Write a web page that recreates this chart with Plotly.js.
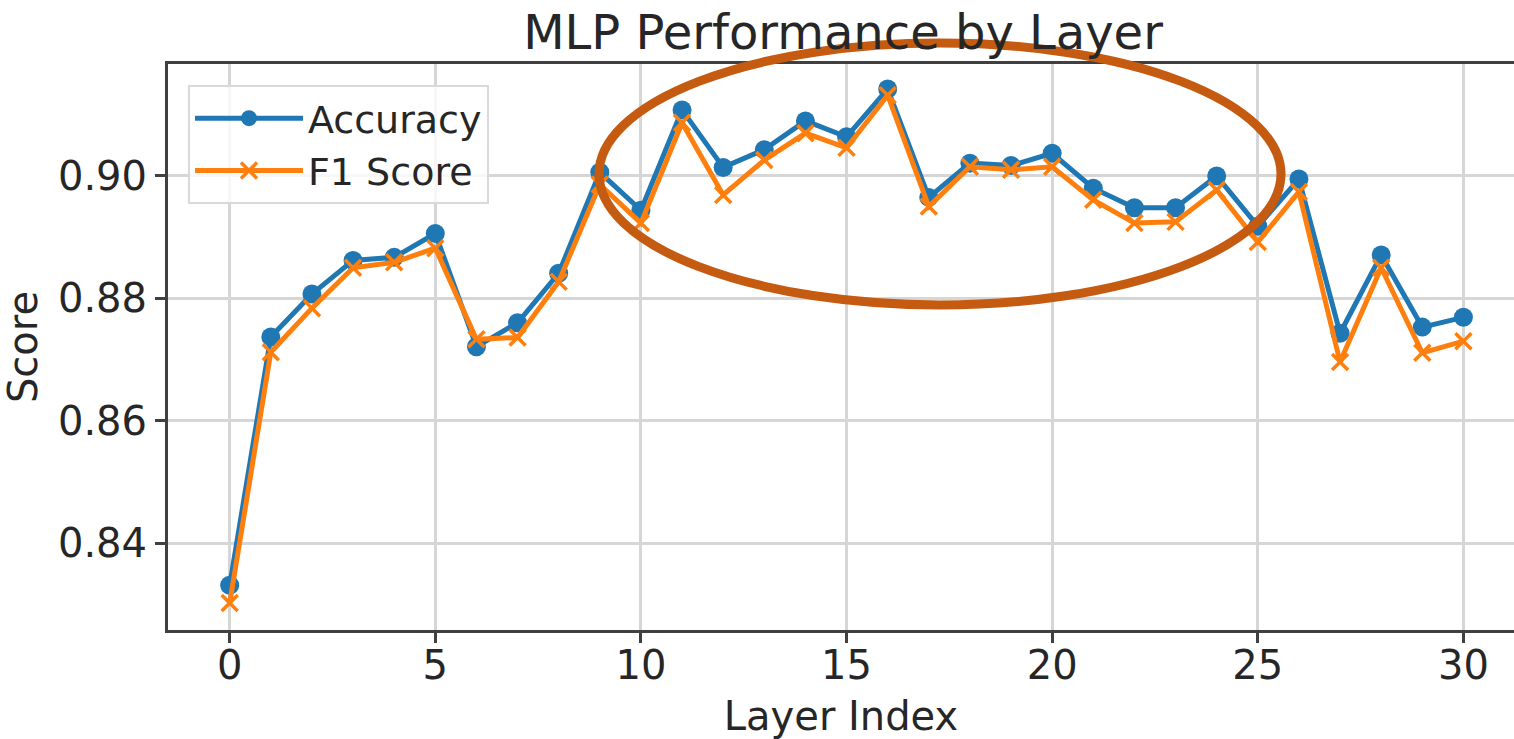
<!DOCTYPE html>
<html>
<head>
<meta charset="utf-8">
<script src="https://cdn.plot.ly/plotly-3.0.1.min.js"></script>
<style>
  html, body { margin: 0; padding: 0; overflow: hidden; background: #fff; }
  #chart { width: 1514px; height: 739px; }
</style>
</head>
<body>
<div id="chart"></div>
<script>
// Layer indices
const layers = [0,1,2,3,4,5,6,7,8,9,10,11,12,13,14,15,16,17,18,19,20,21,22,23,24,25,26,27,28,29,30];

// Accuracy per layer
const accuracy = [0.8331,0.8737,0.8807,0.8862,0.8867,0.8906,0.8721,0.8760,0.8841,0.9006,
                  0.8944,0.9108,0.9014,0.9043,0.9090,0.9064,0.9142,0.8965,0.9021,0.9017,
                  0.9037,0.8980,0.8948,0.8948,0.9000,0.8918,0.8995,0.8743,0.8871,0.8753,0.8769];

// F1 score per layer
const f1score = [0.8302,0.8712,0.8784,0.8850,0.8859,0.8882,0.8733,0.8736,0.8827,0.8986,
                 0.8923,0.9087,0.8969,0.9026,0.9070,0.9046,0.9132,0.8950,0.9015,0.9010,
                 0.9015,0.8961,0.8923,0.8925,0.8977,0.8892,0.8974,0.8696,0.8850,0.8711,0.8730];

const xTicks = [0,5,10,15,20,25,30];
const yTicks = [0.84,0.86,0.88,0.90];
const yTickText = ['0.84','0.86','0.88','0.90'];

const FONT = '"DejaVu Sans", "Liberation Sans", sans-serif';
const TXT = '#262626';

const traces = [
  {
    x: layers, y: accuracy, name: 'Accuracy', type: 'scatter', mode: 'lines+markers',
    line: {color: '#1f77b4', width: 5},
    marker: {color: '#1f77b4', size: 19, symbol: 'circle'}
  },
  {
    x: layers, y: f1score, name: 'F1 Score', type: 'scatter', mode: 'lines+markers',
    line: {color: '#ff7f0e', width: 5},
    marker: {color: '#ff7f0e', size: 16, symbol: 'x-thin', line: {color: '#ff7f0e', width: 3.5}}
  }
];

// plot area spans 168..1514 px; the axis continues beyond the picture's right edge
const layout = {
  width: 1514, height: 739,
  margin: {l: 168, r: 0, t: 64, b: 109},
  paper_bgcolor: '#fff', plot_bgcolor: '#fff',
  font: {family: FONT, size: 40, color: TXT},
  title: {
    text: 'MLP Performance by Layer',
    font: {family: FONT, size: 48, color: TXT},
    x: 843/1514, xref: 'container', xanchor: 'center',
    y: 1 - 32/739, yref: 'container', yanchor: 'middle'
  },
  xaxis: {
    range: [-1.5, 31.23], tickvals: xTicks, ticktext: xTicks.map(String),
    showgrid: true, gridcolor: '#d6d6d6', gridwidth: 3,
    showline: true, linecolor: '#404040', linewidth: 3, mirror: true,
    ticks: 'outside', ticklen: 10, tickwidth: 3, tickcolor: '#404040',
    tickfont: {family: FONT, size: 40, color: TXT},
    ticklabelstandoff: -12,
    zeroline: false,
    title: {text: 'Layer Index', font: {family: FONT, size: 40, color: TXT}, standoff: 16}
  },
  yaxis: {
    range: [0.8258, 0.9183], tickvals: yTicks, ticktext: yTickText,
    showgrid: true, gridcolor: '#d6d6d6', gridwidth: 3,
    showline: true, linecolor: '#404040', linewidth: 3, mirror: false,
    ticks: 'outside', ticklen: 10, tickwidth: 3, tickcolor: '#404040',
    tickfont: {family: FONT, size: 40, color: TXT},
    zeroline: false,
    title: {text: 'Score', font: {family: FONT, size: 40, color: TXT}, standoff: 10}
  },
  showlegend: true,
  legend: {
    x: 20/1346, y: 0.963, xanchor: 'left', yanchor: 'top',
    bgcolor: 'rgba(255,255,255,0.8)', bordercolor: '#d9d9d9', borderwidth: 2,
    font: {family: FONT, size: 38, color: TXT},
    itemwidth: 108
  },
  shapes: [
    {
      type: 'circle', xref: 'paper', yref: 'paper',
      x0: (599-168)/1346, x1: (1281-168)/1346, y0: 0.5742, y1: 1.0371,
      line: {color: '#C55A11', width: 9}, fillcolor: 'rgba(0,0,0,0)', layer: 'above'
    }
  ]
};

Plotly.newPlot('chart', traces, layout, {displayModeBar: false, staticPlot: true});
</script>
</body>
</html>
